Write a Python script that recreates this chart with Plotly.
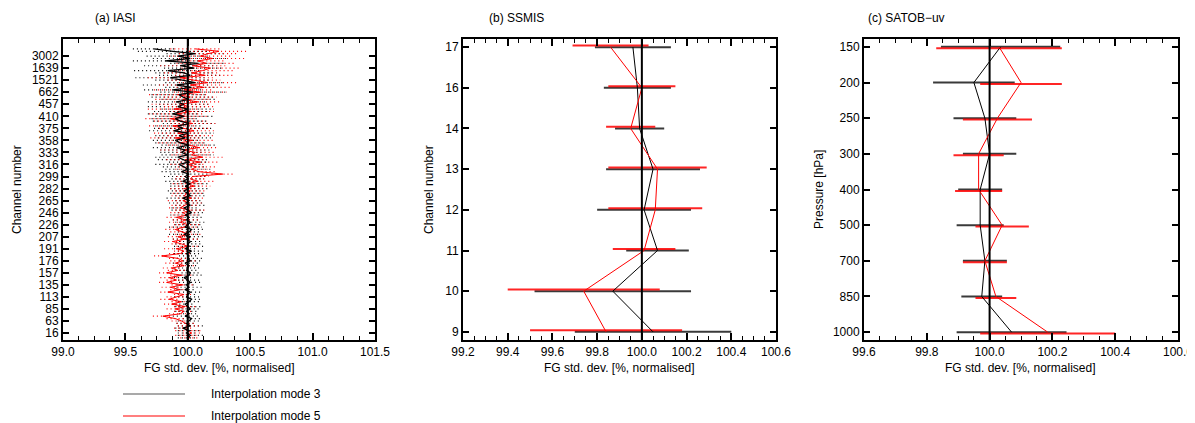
import plotly.graph_objects as go

# ---------------------------------------------------------------
# (a) IASI  -- channels listed bottom to top
IASI_TICK_LABELS = ["16", "63", "85", "113", "135", "157", "176", "191", "207", "226",
                    "246", "265", "282", "299", "316", "333", "358", "375", "410", "457",
                    "662", "1521", "1639", "3002"]

IASI_MODE3_MEAN = [
    100.00, 100.02, 99.99, 100.01, 99.96, 100.02, 99.99, 100.01, 100.03, 99.98, 100.01,
    99.99, 100.02, 100.00, 99.98, 100.01, 100.03, 99.99, 100.00, 100.02, 99.98,
    100.01, 99.99, 100.02, 100.00, 99.97, 100.01, 100.02, 99.99, 100.00, 100.01,
    99.98, 100.02, 100.00, 100.01, 99.99, 100.03, 99.98, 100.01, 100.00, 100.02,
    99.99, 100.02, 99.97, 100.01, 100.03, 99.98, 100.00, 100.02, 99.99, 100.01,
    99.98, 100.03, 100.00, 99.97, 100.02, 99.99, 100.01, 99.96, 100.02, 100.00,
    99.97, 100.01, 99.98, 100.02, 99.96, 100.00, 99.98, 100.01, 99.95, 100.00,
    99.97, 99.93, 100.01, 99.96, 99.92, 100.00, 99.95, 99.98, 99.91, 100.01,
    99.94, 99.90, 99.98, 99.93, 100.00, 99.89, 99.96, 99.92, 100.01, 99.94,
    99.90, 99.97, 99.88, 99.95, 100.00, 99.92, 99.97, 99.91, 100.01, 99.96,
    99.93, 100.04, 99.88, 100.03, 99.91, 100.06, 99.96, 99.86, 100.02, 99.97,
    99.84, 100.05, 99.94, 100.08, 99.82, 100.02, 99.92, 100.06, 99.88, 99.73]
IASI_MODE3_ERR = [
    0.08, 0.10, 0.07, 0.09, 0.06, 0.10, 0.08, 0.09, 0.07, 0.10, 0.08,
    0.09, 0.07, 0.10, 0.08, 0.09, 0.07, 0.10, 0.08, 0.09, 0.07,
    0.10, 0.08, 0.09, 0.11, 0.08, 0.10, 0.07, 0.09, 0.11, 0.08,
    0.10, 0.09, 0.12, 0.08, 0.10, 0.11, 0.09, 0.12, 0.10, 0.09,
    0.11, 0.10, 0.12, 0.09, 0.11, 0.13, 0.10, 0.12, 0.11, 0.10,
    0.12, 0.11, 0.13, 0.10, 0.12, 0.14, 0.11, 0.13, 0.12, 0.14,
    0.13, 0.15, 0.12, 0.16, 0.14, 0.13, 0.17, 0.15, 0.16, 0.18,
    0.17, 0.19, 0.16, 0.20, 0.18, 0.21, 0.17, 0.20, 0.19, 0.22,
    0.20, 0.18, 0.22, 0.19, 0.21, 0.20, 0.23, 0.18, 0.21, 0.22,
    0.19, 0.23, 0.20, 0.22, 0.21, 0.24, 0.20, 0.23, 0.22, 0.25,
    0.22, 0.26, 0.23, 0.21, 0.27, 0.24, 0.22, 0.28, 0.25, 0.23,
    0.27, 0.24, 0.29, 0.22, 0.26, 0.30, 0.25, 0.23, 0.28, 0.17]
IASI_MODE5_MEAN = [
    100.02, 99.99, 100.03, 100.00, 99.97, 100.01, 99.98, 99.95, 99.90, 99.80, 99.94,
    99.97, 99.90, 99.98, 99.87, 99.95, 99.85, 99.92, 99.97, 99.84, 99.94,
    99.86, 99.96, 99.83, 99.91, 99.85, 99.95, 99.83, 99.92, 99.87, 99.97,
    99.90, 99.96, 99.92, 99.79, 99.94, 99.97, 99.91, 100.00, 99.95, 99.88,
    99.98, 99.92, 100.01, 99.95, 99.90, 99.97, 100.00, 99.94, 99.98, 99.91,
    99.99, 99.96, 100.02, 99.94, 99.98, 100.01, 99.96, 100.03, 99.97, 100.00,
    100.02, 99.97, 100.05, 100.00, 100.08, 100.02, 100.04, 100.28, 100.09, 100.03,
    100.07, 100.00, 100.10, 99.98, 100.12, 100.03, 100.06, 99.96, 100.09, 100.01,
    99.94, 100.04, 99.90, 100.02, 99.92, 100.05, 99.97, 99.88, 100.04, 99.94,
    99.86, 99.98, 99.91, 100.03, 99.89, 100.01, 99.94, 100.08, 99.96, 100.02,
    99.92, 100.10, 99.97, 100.13, 100.02, 100.16, 100.05, 99.94, 100.14, 100.03,
    100.12, 100.18, 100.04, 100.15, 100.08, 100.20, 100.10, 100.16, 100.25, 100.06]
IASI_MODE5_ERR = [
    0.08, 0.09, 0.07, 0.10, 0.08, 0.09, 0.07, 0.08, 0.07, 0.08, 0.09,
    0.08, 0.07, 0.09, 0.06, 0.08, 0.07, 0.09, 0.08, 0.06, 0.08,
    0.07, 0.09, 0.06, 0.08, 0.07, 0.09, 0.06, 0.08, 0.07, 0.09,
    0.08, 0.10, 0.07, 0.06, 0.09, 0.08, 0.10, 0.09, 0.08, 0.07,
    0.10, 0.08, 0.11, 0.09, 0.08, 0.10, 0.11, 0.09, 0.10, 0.08,
    0.11, 0.10, 0.12, 0.09, 0.11, 0.10, 0.12, 0.11, 0.10, 0.12,
    0.12, 0.11, 0.13, 0.12, 0.14, 0.12, 0.13, 0.09, 0.14, 0.13,
    0.15, 0.14, 0.16, 0.15, 0.17, 0.16, 0.15, 0.18, 0.16, 0.17,
    0.18, 0.17, 0.20, 0.18, 0.19, 0.17, 0.20, 0.19, 0.18, 0.21,
    0.20, 0.19, 0.22, 0.18, 0.21, 0.20, 0.23, 0.19, 0.22, 0.21,
    0.23, 0.21, 0.24, 0.22, 0.25, 0.23, 0.21, 0.26, 0.24, 0.22,
    0.25, 0.23, 0.26, 0.24, 0.22, 0.27, 0.25, 0.23, 0.24, 0.20]

# ---------------------------------------------------------------
# (b) SSMIS
SSMIS_CHANNELS = ["9", "10", "11", "12", "13", "14", "16", "17"]
SSMIS_MODE3_MEAN = [100.05, 99.87, 100.07, 100.01, 100.05, 99.99, 99.98, 99.96]
SSMIS_MODE3_ERR = [0.35, 0.35, 0.14, 0.21, 0.21, 0.11, 0.15, 0.17]
SSMIS_MODE5_MEAN = [99.84, 99.74, 100.01, 100.06, 100.07, 99.95, 100.00, 99.86]
SSMIS_MODE5_ERR = [0.34, 0.34, 0.14, 0.21, 0.22, 0.11, 0.15, 0.17]

# ---------------------------------------------------------------
# (c) SATOB-uv
SATOB_LEVELS = ["150", "200", "250", "300", "400", "500", "700", "850", "1000"]
SATOB_MODE3_MEAN = [100.035, 99.95, 99.985, 100.0, 99.97, 99.97, 99.985, 99.975, 100.07]
SATOB_MODE3_ERR = [0.19, 0.13, 0.10, 0.085, 0.07, 0.075, 0.07, 0.065, 0.175]
SATOB_MODE5_MEAN = [100.03, 100.10, 100.025, 99.965, 99.965, 100.04, 99.985, 100.02, 100.185]
SATOB_MODE5_ERR = [0.20, 0.13, 0.11, 0.08, 0.075, 0.085, 0.07, 0.065, 0.215]

BLACK = "black"
BAR_GREY = "#3a3a3a"
RED = "#ff0000"
FONT = "Liberation Sans, Arial, Helvetica, sans-serif"

# the page body has an 8px margin, so the figure is shrunk and shifted by it
OFF = 8
W, H = 1195 - OFF, 423 - OFF


def px_x(x):
    return (x - OFF) / W


def px_y(y):
    return (H - (y - OFF)) / H


def bar_segments(means, errs, shift=0.0):
    # horizontal error bars as one broken line
    xs, ys = [], []
    for i, (m, e) in enumerate(zip(means, errs)):
        xs += [m - e, m + e, None]
        ys += [i + shift, i + shift, None]
    return xs, ys


fig = go.Figure()

# ---- panel a
ypos = list(range(len(IASI_MODE3_MEAN)))
bx, by = bar_segments(IASI_MODE3_MEAN, IASI_MODE3_ERR)
fig.add_trace(go.Scatter(x=bx, y=by, mode="lines", line=dict(color=BLACK, width=1.2, dash="1px,3px"),
                         xaxis="x", yaxis="y", showlegend=False, hoverinfo="skip"))
rx, ry = bar_segments(IASI_MODE5_MEAN, IASI_MODE5_ERR)
fig.add_trace(go.Scatter(x=rx, y=ry, mode="lines", line=dict(color=RED, width=1.2, dash="1px,3px"),
                         xaxis="x", yaxis="y", showlegend=False, hoverinfo="skip"))
fig.add_trace(go.Scatter(x=IASI_MODE5_MEAN, y=ypos, mode="lines", line=dict(color=RED, width=1),
                         xaxis="x", yaxis="y", showlegend=False))
fig.add_trace(go.Scatter(x=IASI_MODE3_MEAN, y=ypos, mode="lines", line=dict(color=BLACK, width=1.3),
                         xaxis="x", yaxis="y", showlegend=False))

# ---- panels b and c
panels = [
    ("x2", "y2", SSMIS_MODE3_MEAN, SSMIS_MODE3_ERR, SSMIS_MODE5_MEAN, SSMIS_MODE5_ERR),
    ("x3", "y3", SATOB_MODE3_MEAN, SATOB_MODE3_ERR, SATOB_MODE5_MEAN, SATOB_MODE5_ERR),
]
for xa, ya, m3, e3, m5, e5 in panels:
    pos = list(range(len(m3)))
    bx, by = bar_segments(m3, e3)
    fig.add_trace(go.Scatter(x=bx, y=by, mode="lines", line=dict(color=BAR_GREY, width=2),
                             xaxis=xa, yaxis=ya, showlegend=False, hoverinfo="skip"))
    rx, ry = bar_segments(m5, e5, shift=0.04)
    fig.add_trace(go.Scatter(x=rx, y=ry, mode="lines", line=dict(color=RED, width=2),
                             xaxis=xa, yaxis=ya, showlegend=False, hoverinfo="skip", opacity=0.85))
    fig.add_trace(go.Scatter(x=m3, y=pos, mode="lines", line=dict(color=BLACK, width=1),
                             xaxis=xa, yaxis=ya, showlegend=False))
    fig.add_trace(go.Scatter(x=m5, y=pos, mode="lines", line=dict(color=RED, width=1),
                             xaxis=xa, yaxis=ya, showlegend=False))

# reference line at 100 %
for xa, ya in [("x", "y"), ("x2", "y2"), ("x3", "y3")]:
    fig.add_shape(type="line", xref=xa, yref=ya + " domain", x0=100, x1=100, y0=0, y1=1,
                  line=dict(color=BLACK, width=2))

ydom = [px_y(340), px_y(39)]
axis_common = dict(showline=True, linecolor=BLACK, linewidth=2, mirror="ticks",
                   ticks="inside", tickcolor=BLACK, tickwidth=1.5, ticklen=7,
                   showgrid=False, zeroline=False, automargin=False,
                   tickfont=dict(family=FONT, size=12, color=BLACK))


def xaxis(dom, rng, dtick, minor, anchor):
    return dict(axis_common, domain=dom, range=rng, dtick=dtick, tick0=rng[0],
                tickformat=".1f", anchor=anchor,
                minor=dict(ticks="inside", dtick=minor, ticklen=4, tickcolor=BLACK, tickwidth=1.2))


fig.update_layout(
    width=W, height=H, autosize=False,
    margin=dict(l=0, r=0, t=0, b=0),
    paper_bgcolor="white", plot_bgcolor="white",
    font=dict(family=FONT, size=12, color=BLACK),
    xaxis=xaxis([px_x(63), px_x(375)], [99.0, 101.5], 0.5, 0.125, "y"),
    xaxis2=xaxis([px_x(463), px_x(776)], [99.2, 100.6], 0.2, 0.05, "y2"),
    xaxis3=xaxis([px_x(864), px_x(1178)], [99.6, 100.6], 0.2, 0.05, "y3"),
    yaxis=dict(axis_common, domain=ydom, anchor="x", range=[-0.9, 124.1],
               tickmode="array", tickvals=list(range(2, 2 + 5 * len(IASI_TICK_LABELS), 5)),
               ticktext=IASI_TICK_LABELS, ticklen=6),
    yaxis2=dict(axis_common, domain=ydom, anchor="x2", range=[-0.2, len(SSMIS_CHANNELS) - 0.8],
                tickmode="array", tickvals=list(range(len(SSMIS_CHANNELS))),
                ticktext=SSMIS_CHANNELS, ticklen=6),
    yaxis3=dict(axis_common, domain=ydom, anchor="x3", range=[len(SATOB_LEVELS) - 0.78, -0.22],
                tickmode="array", tickvals=list(range(len(SATOB_LEVELS))),
                ticktext=SATOB_LEVELS, ticklen=6),
)

ann = []
# panel titles
for x, txt in [(93, "(a) IASI"), (487, "(b) SSMIS"), (866, "(c) SATOB\u2212uv")]:
    ann.append(dict(x=px_x(x), y=px_y(18), xref="paper", yref="paper", text=txt,
                    showarrow=False, xanchor="left", yanchor="middle", font=dict(size=12)))
# x axis titles
for x0, x1 in [(63, 375), (463, 776), (864, 1178)]:
    ann.append(dict(x=px_x((x0 + x1) / 2), y=px_y(368), xref="paper", yref="paper",
                    text="FG std. dev. [%, normalised]", showarrow=False,
                    xanchor="center", yanchor="middle", font=dict(size=12)))
# y axis titles
for x, txt in [(17, "Channel number"), (429, "Channel number"), (819, "Pressure [hPa]")]:
    ann.append(dict(x=px_x(x), y=px_y(190), xref="paper", yref="paper", text=txt,
                    textangle=-90, showarrow=False, xanchor="center", yanchor="middle",
                    font=dict(size=12)))
# legend
for yy, col, txt in [(394, "#555555", "Interpolation mode 3"), (416, RED, "Interpolation mode 5")]:
    fig.add_shape(type="line", xref="paper", yref="paper", x0=px_x(123), x1=px_x(185),
                  y0=px_y(yy), y1=px_y(yy), line=dict(color=col, width=1.2))
    ann.append(dict(x=px_x(209), y=px_y(yy), xref="paper", yref="paper", text=txt,
                    showarrow=False, xanchor="left", yanchor="middle", font=dict(size=12)))
fig.update_layout(annotations=ann)

fig.write_html("out.html")
